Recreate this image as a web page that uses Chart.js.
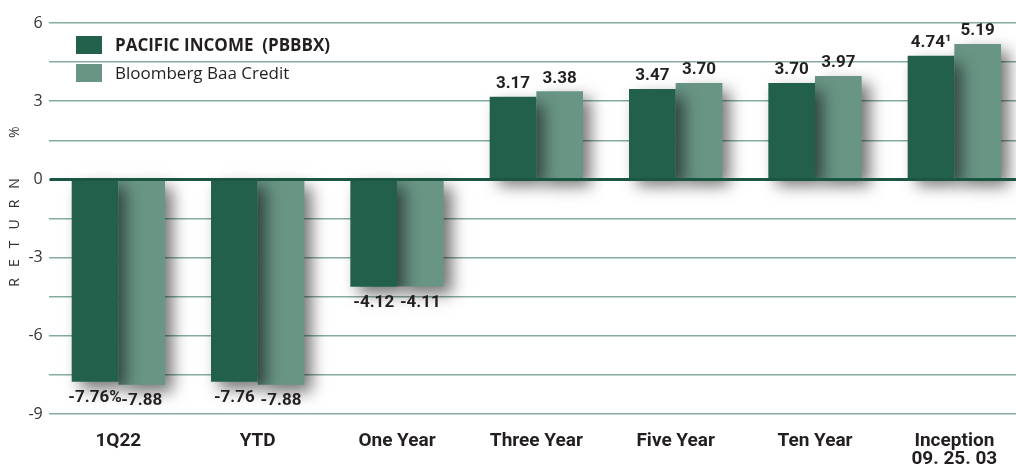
<!DOCTYPE html>
<html>
<head>
<meta charset="utf-8">
<script src="https://cdn.jsdelivr.net/npm/chart.js@4.4.1/dist/chart.umd.min.js"></script>
<style>
  html, body { margin: 0; padding: 0; background: #ffffff; overflow: hidden; }
  #wrap { width: 1024px; height: 469px; }
</style>
</head>
<body>
<div id="wrap"><canvas id="c" width="1024" height="469"></canvas></div>
<script>
// ---- data ----
const categories = ['1Q22', 'YTD', 'One Year', 'Three Year', 'Five Year', 'Ten Year', ['Inception', '09. 25. 03']];
const seriesNames = ['PACIFIC INCOME  (PBBBX)', 'Bloomberg Baa Credit'];
const pacificIncome = [-7.76, -7.76, -4.12, 3.17, 3.47, 3.70, 4.74];
const bloombergBaa = [-7.88, -7.88, -4.11, 3.38, 3.70, 3.97, 5.19];
const pacificLabels = ['-7.76%', '-7.76', '-4.12', '3.17', '3.47', '3.70', '4.74\u00B9'];
const bloombergLabels = ['-7.88', '-7.88', '-4.11', '3.38', '3.70', '3.97', '5.19'];
const yMin = -9, yMax = 6, yStep = 1.5, yLabelEvery = 3;
const yTitle = 'RETURN  %';

const DARK = '#22604C';
const LIGHT = '#699585';
const GRID = '#86AC9E';
const TEXT = '#231f20';

const shadowPlugin = {
  id: 'shadow',
  beforeDatasetDraw(chart) {
    const ctx = chart.ctx;
    ctx.shadowColor = 'rgba(0,0,0,0.55)';
    ctx.shadowBlur = 15;
    ctx.shadowOffsetX = 8;
    ctx.shadowOffsetY = 7;
  },
  afterDatasetDraw(chart) {
    const ctx = chart.ctx;
    ctx.shadowColor = 'rgba(0,0,0,0)';
    ctx.shadowBlur = 0;
    ctx.shadowOffsetX = 0;
    ctx.shadowOffsetY = 0;
  }
};

const overlayPlugin = {
  id: 'overlay',
  afterDatasetsDraw(chart) {
    const ctx = chart.ctx;
    const area = chart.chartArea;
    const y = chart.scales.y;
    // zero line
    const y0 = y.getPixelForValue(0);
    ctx.save();
    ctx.strokeStyle = '#1B5740';
    ctx.lineWidth = 3;
    ctx.beginPath();
    ctx.moveTo(area.left + 1, y0);
    ctx.lineTo(area.right, y0);
    ctx.stroke();
    ctx.restore();

    // data labels
    const labelSets = [pacificLabels, bloombergLabels];
    ctx.save();
    ctx.font = 'bold 17px Roboto';
    ctx.fillStyle = TEXT;
    ctx.textAlign = 'center';
    ctx.textBaseline = 'middle';
    chart.data.datasets.forEach((ds, di) => {
      const meta = chart.getDatasetMeta(di);
      meta.data.forEach((bar, i) => {
        const v = ds.data[i];
        const ty = v >= 0 ? bar.y - 13 : bar.y + 16;
        ctx.fillText(labelSets[di][i], bar.x, ty);
      });
    });
    ctx.restore();

    // legend
    ctx.save();
    const lx = 76, ly = [36, 64], bw = 26, bh = 18;
    [DARK, LIGHT].forEach((col, i) => {
      ctx.fillStyle = col;
      ctx.fillRect(lx, ly[i], bw, bh);
      ctx.fillStyle = TEXT;
      ctx.textBaseline = 'middle';
      ctx.textAlign = 'left';
      ctx.font = (i === 0 ? 'bold ' : '') + '17px "Open Sans"';
      ctx.fillText(seriesNames[i], lx + 39, ly[i] + bh / 2 + 1);
    });
    ctx.restore();

    // y axis title
    ctx.save();
    ctx.translate(15, 206);
    ctx.rotate(-Math.PI / 2);
    ctx.font = '14px "Open Sans"';
    ctx.letterSpacing = '11px';
    ctx.fillStyle = '#333333';
    ctx.textAlign = 'center';
    ctx.textBaseline = 'middle';
    ctx.fillText(yTitle, 5, 0);
    ctx.restore();
  }
};

new Chart(document.getElementById('c'), {
  type: 'bar',
  data: {
    labels: categories,
    datasets: [
      { label: seriesNames[0], data: pacificIncome, backgroundColor: DARK, categoryPercentage: 0.67, barPercentage: 1.0 },
      { label: seriesNames[1], data: bloombergBaa, backgroundColor: LIGHT, categoryPercentage: 0.67, barPercentage: 1.0 }
    ]
  },
  options: {
    responsive: false,
    animation: false,
    layout: { padding: { top: 23, right: 0, left: 0, bottom: 0 } },
    plugins: { legend: { display: false }, tooltip: { enabled: false } },
    scales: {
      x: {
        grid: { display: false, drawTicks: false },
        border: { display: false },
        ticks: {
          color: TEXT,
          font: { family: 'Roboto', weight: 'bold', size: 19, lineHeight: 0.95 },
          padding: 18,
          maxRotation: 0,
          autoSkip: false
        },
        afterFit(scale) { scale.height = 55; }
      },
      y: {
        min: yMin,
        max: yMax,
        border: { display: false },
        grid: { color: GRID, lineWidth: 1.5, drawTicks: false },
        ticks: {
          stepSize: yStep,
          color: '#333333',
          font: { family: '"Open Sans"', size: 16 },
          padding: 6,
          callback(v) {
            return (Math.abs(v % yLabelEvery) < 1e-9) ? String(v) : '';
          }
        },
        afterFit(scale) { scale.width = 48.7; }
      }
    }
  },
  plugins: [shadowPlugin, overlayPlugin]
});
</script>
</body>
</html>
